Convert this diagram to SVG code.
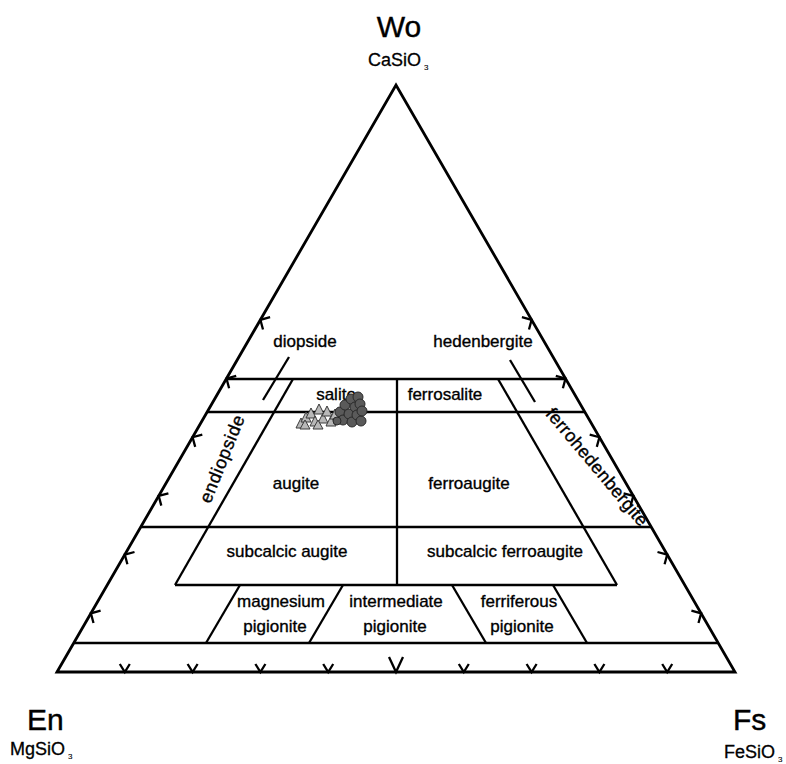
<svg xmlns="http://www.w3.org/2000/svg" width="786" height="764" viewBox="0 0 786 764">
<style>
  .ln { stroke:#000; stroke-width:2.3; fill:none; stroke-linecap:butt; }
  .tri { stroke:#000; stroke-width:2.8; fill:none; stroke-linejoin:miter; }
  .tk { stroke:#000; stroke-width:2.3; fill:none; }
  .lb { font-family:"Liberation Sans", Arial, sans-serif; font-size:17px; fill:#000; stroke:#000; stroke-width:0.35; text-anchor:middle; }
  .big { font-family:"Liberation Sans", Arial, sans-serif; font-size:30px; fill:#000; stroke:#000; stroke-width:0.4; }
  .fm { font-family:"Liberation Sans", Arial, sans-serif; font-size:18px; fill:#000; stroke:#000; stroke-width:0.3; }
  .tri-pt { fill:#b8b8b8; stroke:#3a3a3a; stroke-width:1; }
  .cir-pt { fill:#5a5a5a; stroke:#2a2a2a; stroke-width:1; }
</style>
<defs>
  <path id="tkL" d="M9.7,-2.6 L0,0 L2.6,9.7"/>
  <path id="tkR" d="M-9.7,-2.6 L0,0 L-2.6,9.7"/>
  <path id="tkB" d="M-5,-8 L0,0 L5,-8"/>
  <path id="tkBig" d="M-7,-15 L0,0 L7,-15"/>
</defs>
<rect width="786" height="764" fill="#fff"/>

<g id="connectors">
  <polygon class="tri" points="57,672 396,85 735,672"/>
  <line class="ln" x1="226" y1="379" x2="566" y2="379"/>
  <line class="ln" x1="207" y1="412" x2="585" y2="412"/>
  <line class="ln" x1="141" y1="527" x2="651" y2="527"/>
  <line class="ln" x1="74" y1="643" x2="718" y2="643"/>
  <line class="ln" x1="293" y1="379" x2="175" y2="585"/>
  <line class="ln" x1="498" y1="379" x2="617" y2="585"/>
  <line class="ln" x1="397" y1="379" x2="397" y2="585"/>
  <line class="ln" x1="175" y1="585" x2="617" y2="585"/>
  <line class="ln" x1="240" y1="585" x2="206" y2="643"/>
  <line class="ln" x1="343" y1="585" x2="309" y2="643"/>
  <line class="ln" x1="452" y1="585" x2="486" y2="643"/>
  <line class="ln" x1="553" y1="585" x2="587" y2="643"/>
  <line class="ln" x1="289" y1="357" x2="263" y2="400"/>
  <line class="ln" x1="510" y1="360" x2="535" y2="402"/>
  <g class="tk">
    <use href="#tkL" x="90.9" y="613.3"/>
    <use href="#tkL" x="124.8" y="554.6"/>
    <use href="#tkL" x="158.7" y="495.9"/>
    <use href="#tkL" x="192.6" y="437.2"/>
    <use href="#tkL" x="226.5" y="378.5"/>
    <use href="#tkL" x="260.4" y="319.8"/>
    <use href="#tkR" x="701.1" y="613.3"/>
    <use href="#tkR" x="667.2" y="554.6"/>
    <use href="#tkR" x="633.3" y="495.9"/>
    <use href="#tkR" x="599.4" y="437.2"/>
    <use href="#tkR" x="565.5" y="378.5"/>
    <use href="#tkR" x="531.6" y="319.8"/>
    <use href="#tkB" x="124.8" y="672"/>
    <use href="#tkB" x="192.6" y="672"/>
    <use href="#tkB" x="260.4" y="672"/>
    <use href="#tkB" x="328.2" y="672"/>
    <use href="#tkBig" x="396" y="672"/>
    <use href="#tkB" x="463.8" y="672"/>
    <use href="#tkB" x="531.6" y="672"/>
    <use href="#tkB" x="599.4" y="672"/>
    <use href="#tkB" x="667.2" y="672"/>
  </g>
</g>

<g id="wo"><text class="big" x="399" y="37" text-anchor="middle">Wo</text>
  <text class="fm" x="368" y="66">CaSiO<tspan font-size="8" stroke-width="0.1" dx="3" dy="4">3</tspan></text></g>
<g id="en"><text class="big" x="27" y="730">En</text>
  <text class="fm" x="10" y="755">MgSiO<tspan font-size="8" stroke-width="0.1" dx="3" dy="4">3</tspan></text></g>
<g id="fs"><text class="big" x="733" y="730">Fs</text>
  <text class="fm" x="724" y="758">FeSiO<tspan font-size="8" stroke-width="0.1" dx="3" dy="4">3</tspan></text></g>

<g id="diopside"><text class="lb" x="305" y="347">diopside</text></g>
<g id="hedenbergite"><text class="lb" x="483" y="347">hedenbergite</text></g>
<g id="salite"><text class="lb" x="336" y="400">salite</text></g>
<g id="ferrosalite"><text class="lb" x="445" y="400">ferrosalite</text></g>
<g id="endiopside"><text class="lb" style="font-size:18px" transform="translate(222,459) rotate(-68)" y="6" textLength="93">endiopside</text></g>
<g id="augite"><text class="lb" x="296" y="489">augite</text></g>
<g id="ferroaugite"><text class="lb" x="469" y="489">ferroaugite</text></g>
<g id="ferrohedenbergite"><text class="lb" style="font-size:18px" transform="translate(597,467) rotate(50)" y="6" textLength="148">ferrohedenbergite</text></g>
<g id="subcalcic-augite"><text class="lb" x="287" y="557">subcalcic augite</text></g>
<g id="subcalcic-ferroaugite"><text class="lb" x="505" y="557">subcalcic ferroaugite</text></g>
<g id="magnesium-pigionite"><text class="lb" x="281" y="607">magnesium</text><text class="lb" x="275" y="632">pigionite</text></g>
<g id="intermediate-pigionite"><text class="lb" x="396" y="607">intermediate</text><text class="lb" x="395" y="632">pigionite</text></g>
<g id="ferriferous-pigionite"><text class="lb" x="519" y="607">ferriferous</text><text class="lb" x="522" y="632">pigionite</text></g>

<g id="data-points">
  <polygon class="tri-pt" points="296,428 301,418 306,428"/>
  <polygon class="tri-pt" points="301,422 306,412 311,422"/>
  <polygon class="tri-pt" points="306,418 311,408 316,418"/>
  <polygon class="tri-pt" points="310,426 315,416 320,426"/>
  <polygon class="tri-pt" points="314,414 319,404 324,414"/>
  <polygon class="tri-pt" points="318,423 323,413 328,423"/>
  <polygon class="tri-pt" points="322,416 327,406 332,416"/>
  <polygon class="tri-pt" points="326,426 331,416 336,426"/>
  <polygon class="tri-pt" points="330,419 335,409 340,419"/>
  <polygon class="tri-pt" points="300,429 305,420 310,429"/>
  <polygon class="tri-pt" points="313,429 318,420 323,429"/>
  <circle class="cir-pt" cx="340" cy="412" r="5"/>
  <circle class="cir-pt" cx="343" cy="420" r="5"/>
  <circle class="cir-pt" cx="345" cy="405" r="5"/>
  <circle class="cir-pt" cx="349" cy="414" r="5"/>
  <circle class="cir-pt" cx="351" cy="399" r="5"/>
  <circle class="cir-pt" cx="352" cy="422" r="5"/>
  <circle class="cir-pt" cx="355" cy="407" r="5"/>
  <circle class="cir-pt" cx="357" cy="415" r="5"/>
  <circle class="cir-pt" cx="358" cy="397" r="5"/>
  <circle class="cir-pt" cx="360" cy="404" r="5"/>
  <circle class="cir-pt" cx="361" cy="421" r="5"/>
  <circle class="cir-pt" cx="362" cy="411" r="5"/>
  <circle class="cir-pt" cx="337" cy="421" r="4"/>
</g>
</svg>
